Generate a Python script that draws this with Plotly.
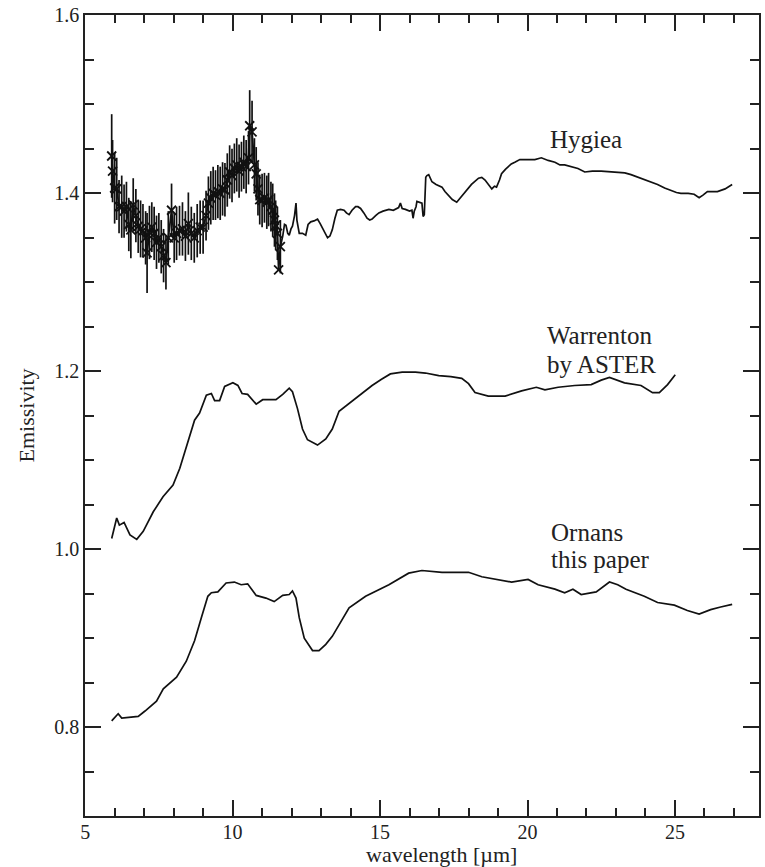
import plotly.graph_objects as go

# Hygiea, short-wavelength part with error bars (wavelength in um, emissivity)
hyg_pts_x = [5.90, 5.93, 6.00, 6.07, 6.15, 6.24, 6.32, 6.40, 6.48, 6.55, 6.63, 6.72, 6.80, 6.88,
             6.96, 7.05, 7.10, 7.18, 7.26, 7.34, 7.42, 7.50, 7.58, 7.66, 7.74, 7.82, 7.93, 8.02,
             8.10, 8.20, 8.30, 8.40, 8.50, 8.60, 8.70, 8.80, 8.90, 9.00, 9.10, 9.18, 9.26, 9.34,
             9.42, 9.50, 9.58, 9.66, 9.74, 9.82, 9.90, 9.98, 10.06, 10.14, 10.22, 10.30, 10.38,
             10.46, 10.54, 10.58, 10.66, 10.74, 10.80, 10.86, 10.92, 11.00, 11.08, 11.16, 11.22,
             11.30, 11.36, 11.42, 11.46, 11.52, 11.56, 11.62]
hyg_pts_y = [1.442, 1.425, 1.406, 1.405, 1.385, 1.385, 1.380, 1.385, 1.365, 1.359, 1.387, 1.375,
             1.363, 1.360, 1.358, 1.350, 1.333, 1.356, 1.362, 1.355, 1.345, 1.350, 1.340, 1.330,
             1.322, 1.350, 1.381, 1.350, 1.355, 1.358, 1.360, 1.352, 1.366, 1.355, 1.350, 1.358,
             1.362, 1.362, 1.375, 1.389, 1.395, 1.400, 1.398, 1.402, 1.400, 1.405, 1.404, 1.415,
             1.424, 1.420, 1.428, 1.432, 1.425, 1.430, 1.435, 1.430, 1.440, 1.476, 1.469, 1.432,
             1.422, 1.405, 1.393, 1.392, 1.395, 1.390, 1.393, 1.385, 1.381, 1.370, 1.364, 1.355,
             1.314, 1.340]
hyg_pts_err = [0.047, 0.035, 0.040, 0.035, 0.030, 0.035, 0.030, 0.028, 0.030, 0.032, 0.030, 0.030,
               0.030, 0.032, 0.030, 0.030, 0.045, 0.030, 0.028, 0.030, 0.030, 0.028, 0.030, 0.030,
               0.030, 0.030, 0.030, 0.028, 0.030, 0.028, 0.030, 0.028, 0.035, 0.030, 0.028, 0.030,
               0.030, 0.030, 0.028, 0.030, 0.030, 0.030, 0.028, 0.030, 0.030, 0.030, 0.030, 0.030,
               0.030, 0.030, 0.028, 0.030, 0.030, 0.028, 0.030, 0.030, 0.030, 0.040, 0.035, 0.030,
               0.030, 0.030, 0.028, 0.030, 0.028, 0.030, 0.030, 0.028, 0.030, 0.030, 0.028, 0.030,
               0.000, 0.030]

# Hygiea, long-wavelength part (line only)
hyg_x = [11.62, 11.70, 11.76, 11.81, 11.87, 11.92, 11.98, 12.03, 12.10, 12.15, 12.18, 12.26, 12.37,
         12.48, 12.56, 12.65, 12.76, 12.88, 12.97, 13.05, 13.14, 13.22, 13.30, 13.38, 13.47, 13.55,
         13.66, 13.78, 13.86, 13.95, 14.05, 14.17, 14.25, 14.34, 14.45, 14.56, 14.65, 14.73, 14.85,
         14.96, 15.10, 15.30, 15.45, 15.63, 15.69, 15.75, 15.86, 16.00, 16.08, 16.12, 16.16, 16.22,
         16.25, 16.34, 16.42, 16.46, 16.50, 16.55, 16.59, 16.65, 16.70, 16.76, 16.90, 17.10, 17.20,
         17.32, 17.45, 17.60, 17.75, 17.89, 18.10, 18.34, 18.45, 18.56, 18.68, 18.79, 18.88, 18.95,
         19.05, 19.12, 19.25, 19.35, 19.45, 19.57, 19.74, 20.00, 20.25, 20.47, 20.70, 20.93, 21.10,
         21.26, 21.50, 21.71, 21.94, 22.20, 22.50, 22.84, 23.10, 23.30, 23.51, 23.75, 23.96, 24.20,
         24.41, 24.65, 24.86, 25.05, 25.20, 25.45, 25.65, 25.75, 25.82, 25.95, 26.10, 26.30, 26.44,
         26.70, 26.94]
hyg_y = [1.340, 1.352, 1.365, 1.364, 1.355, 1.353, 1.360, 1.363, 1.375, 1.389, 1.370, 1.355, 1.355,
         1.353, 1.365, 1.368, 1.369, 1.371, 1.366, 1.361, 1.354, 1.350, 1.352, 1.359, 1.372, 1.381,
         1.382, 1.381, 1.378, 1.376, 1.381, 1.385, 1.385, 1.383, 1.378, 1.372, 1.370, 1.371, 1.375,
         1.378, 1.380, 1.382, 1.381, 1.384, 1.389, 1.383, 1.382, 1.380, 1.381, 1.372, 1.380, 1.385,
         1.391, 1.390, 1.389, 1.374, 1.376, 1.418, 1.420, 1.421, 1.418, 1.413, 1.410, 1.407, 1.402,
         1.398, 1.393, 1.390, 1.396, 1.402, 1.410, 1.417, 1.418, 1.415, 1.410, 1.405, 1.408, 1.407,
         1.415, 1.422, 1.427, 1.430, 1.433, 1.435, 1.438, 1.438, 1.438, 1.440, 1.437, 1.435, 1.432,
         1.432, 1.430, 1.428, 1.424, 1.425, 1.425, 1.424, 1.424, 1.423, 1.421, 1.418, 1.416, 1.413,
         1.410, 1.406, 1.403, 1.401, 1.400, 1.400, 1.399, 1.397, 1.395, 1.398, 1.402, 1.402, 1.402,
         1.405, 1.410]

# Warrenton by ASTER
war_x = [5.90, 6.07, 6.16, 6.32, 6.52, 6.75, 6.97, 7.31, 7.64, 7.98, 8.21, 8.43, 8.71, 8.88, 9.11,
         9.28, 9.39, 9.56, 9.73, 10.01, 10.18, 10.32, 10.51, 10.80, 11.02, 11.47, 11.70, 11.92,
         12.03, 12.20, 12.37, 12.54, 12.88, 13.16, 13.38, 13.61, 13.95, 14.17, 14.45, 14.73, 15.05,
         15.35, 15.75, 16.20, 16.54, 16.99, 17.40, 17.77, 18.00, 18.22, 18.67, 19.24, 19.80, 20.30,
         20.59, 21.04, 21.60, 22.16, 22.50, 22.78, 23.29, 23.85, 24.24, 24.47, 24.75, 25.01]
war_y = [1.012, 1.035, 1.027, 1.030, 1.016, 1.011, 1.020, 1.042, 1.059, 1.072, 1.091, 1.115, 1.145,
         1.153, 1.173, 1.175, 1.167, 1.167, 1.183, 1.187, 1.184, 1.175, 1.174, 1.163, 1.168, 1.168,
         1.174, 1.181, 1.177, 1.158, 1.135, 1.123, 1.117, 1.124, 1.135, 1.155, 1.164, 1.169, 1.177,
         1.184, 1.191, 1.197, 1.199, 1.199, 1.198, 1.195, 1.194, 1.192, 1.186, 1.176, 1.172, 1.172,
         1.178, 1.182, 1.179, 1.182, 1.184, 1.185, 1.190, 1.193, 1.187, 1.184, 1.176, 1.176, 1.185,
         1.196]

# Ornans (this paper)
orn_x = [5.90, 6.12, 6.24, 6.80, 7.03, 7.42, 7.65, 8.10, 8.43, 8.71, 8.94, 9.16, 9.28, 9.50, 9.78,
         10.06, 10.29, 10.51, 10.80, 11.13, 11.41, 11.70, 11.92, 12.03, 12.15, 12.26, 12.43, 12.71,
         12.93, 13.16, 13.38, 13.70, 13.95, 14.51, 15.30, 15.97, 16.42, 17.10, 18.00, 18.45, 18.90,
         19.46, 20.02, 20.36, 20.93, 21.26, 21.54, 21.82, 22.33, 22.78, 23.06, 23.34, 23.96, 24.41,
         24.98, 25.42, 25.82, 26.21, 26.55, 26.94]
orn_y = [0.807, 0.815, 0.810, 0.812, 0.818, 0.829, 0.843, 0.856, 0.874, 0.897, 0.923, 0.947, 0.951,
         0.952, 0.962, 0.963, 0.960, 0.961, 0.948, 0.945, 0.941, 0.948, 0.949, 0.953, 0.945, 0.923,
         0.900, 0.886, 0.886, 0.893, 0.902, 0.920, 0.934, 0.947, 0.960, 0.973, 0.976, 0.974, 0.974,
         0.969, 0.966, 0.963, 0.966, 0.960, 0.955, 0.951, 0.955, 0.949, 0.952, 0.963, 0.960, 0.955,
         0.947, 0.940, 0.937, 0.931, 0.927, 0.932, 0.935, 0.938]

labels = ["Hygiea", "Warrenton", "by ASTER", "Ornans", "this paper"]
label_x = [20.7, 20.6, 20.6, 20.72, 20.72]
label_y = [1.460, 1.240, 1.208, 1.019, 0.988]

x_ticks = [5, 10, 15, 20, 25]
y_ticks = [0.8, 1.0, 1.2, 1.4, 1.6]

INK = "#111111"
SERIF = "Liberation Serif"

fig = go.Figure()
fig.add_trace(go.Scatter(
    x=hyg_pts_x, y=hyg_pts_y, mode="lines+markers",
    line=dict(color=INK, width=1.8),
    marker=dict(symbol="x-thin", size=9, color=INK, line=dict(width=1.8, color=INK)),
    error_y=dict(type="data", array=hyg_pts_err, visible=True, width=0, thickness=1.7, color=INK),
    showlegend=False))
fig.add_trace(go.Scatter(x=hyg_x, y=hyg_y, mode="lines", line=dict(color=INK, width=1.7),
                         showlegend=False))
fig.add_trace(go.Scatter(x=war_x, y=war_y, mode="lines", line=dict(color=INK, width=1.7),
                         showlegend=False))
fig.add_trace(go.Scatter(x=orn_x, y=orn_y, mode="lines", line=dict(color=INK, width=1.7),
                         showlegend=False))

for t, lx, ly in zip(labels, label_x, label_y):
    fig.add_annotation(x=lx, y=ly, text=t, showarrow=False, xanchor="left", yanchor="middle",
                       font=dict(family=SERIF, size=25, color="#222"))

fig.add_annotation(x=17.1, y=0, xref="x", yref="paper", yshift=-38, text="wavelength [\u00b5m]",
                   showarrow=False, xanchor="center", yanchor="middle",
                   font=dict(family=SERIF, size=22, color="#222"))
fig.add_annotation(x=0, y=0.5, xref="paper", yref="paper", xshift=-59, text="Emissivity",
                   textangle=-90, showarrow=False, xanchor="center", yanchor="middle",
                   font=dict(family=SERIF, size=22, color="#222"))

axis_common = dict(showline=True, linecolor="#222", linewidth=1.5, mirror="ticks",
                   ticks="inside", ticklen=16, tickwidth=1.5, tickcolor="#222",
                   showgrid=False, zeroline=False,
                   tickfont=dict(family=SERIF, size=20, color="#222"))
fig.update_xaxes(range=[4.995, 27.85], tickvals=x_ticks, ticklabelstandoff=-3,
                 minor=dict(dtick=1, tick0=0, ticks="inside", ticklen=8, tickwidth=1.5,
                            tickcolor="#222", showgrid=False),
                 **axis_common)
fig.update_yaxes(range=[0.7, 1.6005], tickvals=y_ticks, tickformat=".1f",
                 minor=dict(dtick=0.05, tick0=0, ticks="inside", ticklen=9, tickwidth=1.5,
                            tickcolor="#222", showgrid=False),
                 **axis_common)

fig.update_layout(width=765, height=867, margin=dict(l=85, r=4, t=11, b=51),
                  paper_bgcolor="white", plot_bgcolor="white", showlegend=False)

fig.write_html("out.html")
